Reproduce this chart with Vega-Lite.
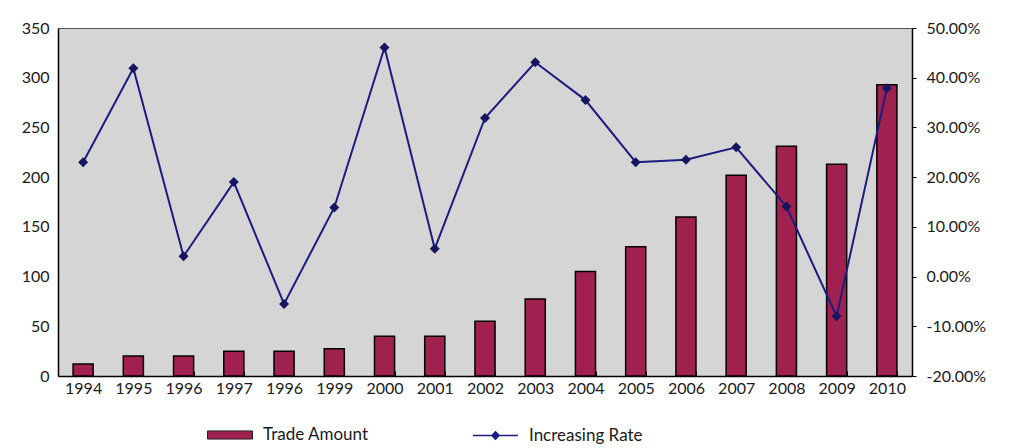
{
  "$schema": "https://vega.github.io/schema/vega-lite/v6.json",
  "width": 854,
  "height": 348,
  "padding": {"left": 0, "top": 20, "right": 0, "bottom": 0},
  "background": "white",
  "config": {
    "font": "Lato",
    "view": {"fill": "#d5d5d5", "stroke": "#555555", "strokeWidth": 1},
    "axis": {"labelFont": "Lato", "labelFontSize": 16, "labelColor": "#1a1a1a", "grid": false, "domainColor": "#000000", "domainWidth": 1.5, "tickColor": "#000000", "title": null},
    "legend": {"labelFont": "Lato", "labelFontSize": 17, "labelColor": "#1a1a1a"}
  },
  "data": {"values": [
    {"year": "1994", "amount": 12, "rate": 0.230},
    {"year": "1995", "amount": 20, "rate": 0.419},
    {"year": "1996", "amount": 20, "rate": 0.041},
    {"year": "1997", "amount": 25, "rate": 0.190},
    {"year": "1998", "amount": 25, "rate": -0.055},
    {"year": "1999", "amount": 27.5, "rate": 0.139},
    {"year": "2000", "amount": 40, "rate": 0.461},
    {"year": "2001", "amount": 40, "rate": 0.056},
    {"year": "2002", "amount": 55, "rate": 0.319},
    {"year": "2003", "amount": 77.5, "rate": 0.431},
    {"year": "2004", "amount": 105, "rate": 0.355},
    {"year": "2005", "amount": 130, "rate": 0.230},
    {"year": "2006", "amount": 160, "rate": 0.235},
    {"year": "2007", "amount": 202, "rate": 0.260},
    {"year": "2008", "amount": 231, "rate": 0.141},
    {"year": "2009", "amount": 213, "rate": -0.080},
    {"year": "2010", "amount": 293, "rate": 0.379}
  ]},
  "encoding": {
    "x": {
      "field": "year", "type": "ordinal",
      "scale": {"paddingInner": 0.6, "paddingOuter": 0.3},
      "axis": {"labelAngle": 0, "labelPadding": 9, "tickBand": "extent", "tickSize": -5, "labelExpr": "datum.value == '1998' ? '1996' : datum.value"}
    }
  },
  "layer": [
    {
      "mark": {"type": "bar", "stroke": "#000000", "strokeWidth": 1.5},
      "encoding": {
        "y": {"field": "amount", "type": "quantitative", "scale": {"domain": [0, 350]},
          "axis": {"orient": "left", "values": [0, 50, 100, 150, 200, 250, 300, 350], "ticks": false, "labelPadding": 9, "minExtent": 58, "maxExtent": 58}},
        "fill": {"datum": "Trade Amount", "type": "nominal", "scale": {"range": ["#a0214f"]},
          "legend": {"title": null, "orient": "none", "legendX": 149, "legendY": 384, "symbolType": "M-1,-0.18H1V0.18H-1Z", "symbolSize": 2025, "symbolStrokeColor": "#222222", "symbolStrokeWidth": 1, "labelOffset": 10}}
      }
    },
    {
      "layer": [
        {
          "mark": {"type": "line", "strokeWidth": 2},
          "encoding": {
            "y": {"field": "rate", "type": "quantitative", "scale": {"domain": [-0.2, 0.5]},
              "axis": {"orient": "right", "values": [-0.2, -0.1, 0, 0.1, 0.2, 0.3, 0.4, 0.5], "labelExpr": "replace(format(datum.value, '.2%'), '\u2212', '-')", "tickSize": 4, "labelPadding": 10, "minExtent": 100, "maxExtent": 100}},
            "stroke": {"datum": "Increasing Rate", "type": "nominal", "scale": {"range": ["#1c1c80"]},
              "legend": {"title": null, "orient": "none", "legendX": 414, "legendY": 384, "symbolType": "M-1,0H1M-0.16,0L0,-0.16L0.16,0L0,0.16Z", "symbolSize": 2025, "symbolFillColor": "#1c1c80", "symbolStrokeWidth": 1.5, "labelOffset": 10}}
          }
        },
        {
          "mark": {"type": "point", "shape": "diamond", "filled": true, "color": "#16165e", "size": 100, "opacity": 1},
          "encoding": {
            "y": {"field": "rate", "type": "quantitative"}
          }
        }
      ]
    }
  ],
  "resolve": {"scale": {"y": "independent", "fill": "independent", "stroke": "independent"}}
}
